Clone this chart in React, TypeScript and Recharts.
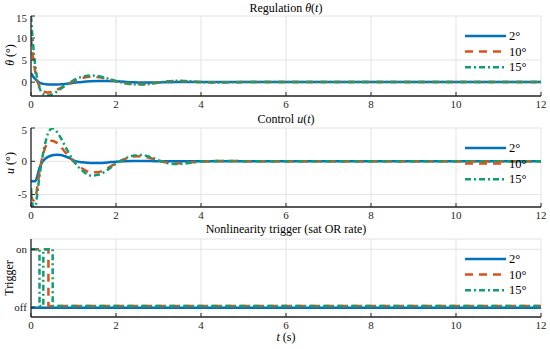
import { LineChart, Line, XAxis, YAxis, CartesianGrid, Legend } from "recharts";

// ---------------------------------------------------------------------------
// Data
// ---------------------------------------------------------------------------

const timeS = [
  0, 0.05, 0.1, 0.15, 0.2, 0.25, 0.3, 0.35, 0.4, 0.5, 0.6, 0.7, 0.8, 0.9, 1.0,
  1.1, 1.2, 1.4, 1.6, 1.8, 2.0, 2.2, 2.4, 2.6, 2.8, 3.0, 3.2, 3.4, 3.6, 3.8,
  4.0, 4.5, 5, 6, 8, 10, 12,
];

const theta2 = [
  2.0, 1.3, 0.7, 0.2, -0.1, -0.3, -0.4, -0.48, -0.52, -0.55, -0.55, -0.5,
  -0.42, -0.3, -0.17, -0.05, 0.05, 0.2, 0.27, 0.25, 0.17, 0.07, -0.02, -0.07,
  -0.08, -0.06, -0.03, 0, 0.02, 0.02, 0.01, 0, 0, 0, 0, 0, 0,
];
const theta10 = [
  10, 5.5, 2.4, 0.3, -1.0, -1.7, -2.1, -2.3, -2.35, -2.2, -1.8, -1.3, -0.75,
  -0.25, 0.2, 0.6, 0.9, 1.2, 1.1, 0.7, 0.2, -0.2, -0.42, -0.45, -0.33, -0.08,
  0.15, 0.25, 0.22, 0.1, 0.0, -0.05, 0, 0, 0, 0, 0,
];
const theta15 = [
  15, 8.5, 3.8, 0.6, -1.3, -2.3, -2.8, -3.05, -3.05, -2.8, -2.2, -1.5, -0.8,
  -0.2, 0.4, 0.9, 1.2, 1.5, 1.35, 0.85, 0.25, -0.25, -0.5, -0.55, -0.4, -0.1,
  0.15, 0.3, 0.27, 0.12, 0.0, -0.07, 0, 0, 0, 0, 0,
];

const u2 = [
  -3.0, -3.0, -3.0, -2.2, -1.0, -0.3, 0.15, 0.45, 0.65, 0.9, 0.98, 0.95, 0.75,
  0.5, 0.15, -0.05, -0.15, -0.27, -0.27, -0.18, -0.06, 0.0, 0.03, 0.04, 0.03,
  0.01, 0, 0, 0, 0, 0, 0, 0, 0, 0, 0, 0,
];
const u10 = [
  -5.0, -5.9, -5.6, -3.8, -1.6, 0.1, 1.4, 2.3, 2.8, 3.1, 2.8, 2.2, 1.4, 0.7,
  0.0, -0.6, -1.05, -1.65, -1.6, -1.05, -0.3, 0.3, 0.7, 0.75, 0.5, 0.1, -0.2,
  -0.32, -0.28, -0.15, -0.03, 0.04, 0.02, 0, 0, 0, 0,
];
const u15 = [
  -4.0, -6.8, -6.8, -4.8, -2.2, -0.1, 1.7, 3.1, 4.2, 4.95, 4.5, 3.5, 2.3, 1.1,
  0.1, -0.75, -1.35, -2.15, -2.0, -1.3, -0.35, 0.35, 0.85, 0.95, 0.65, 0.15,
  -0.25, -0.4, -0.35, -0.18, -0.04, 0.05, 0.02, 0, 0, 0, 0,
];

// trigger: 1 = on, 0 = off (step signal)
const trigTimes = [0, 0.2, 0.29, 0.41, 0.51, 12];
const trig2 = [-0.01, -0.01, -0.01, -0.01, -0.01, -0.01];
const trig10 = [1, 1, 1, 0.02, 0.02, 0.02];
const trig15 = [1, 0.02, 1, 1, 0.02, 0.02];

const seriesNames = ["2°", "10°", "15°"];
const seriesColors = ["#0072BD", "#D95319", "#0f9e74"];
const seriesDash = ["", "8 6", "6 3 2 3"];

const xTicks = [0, 2, 4, 6, 8, 10, 12];

const thetaData = timeS.map((t, i) => ({ t, a: theta2[i], b: theta10[i], c: theta15[i] }));
const uData = timeS.map((t, i) => ({ t, a: u2[i], b: u10[i], c: u15[i] }));
const trigData = trigTimes.map((t, i) => ({ t, a: trig2[i], b: trig10[i], c: trig15[i] }));

// ---------------------------------------------------------------------------
// Styling
// ---------------------------------------------------------------------------

const FONT = '"Liberation Serif", "Times New Roman", serif';
const AXIS = "#262626";
const tickStyle = { fontSize: 11, fill: AXIS, fontFamily: FONT };
const axisLine = { stroke: AXIS, strokeWidth: 1.3 };

const LegendContent = ({ payload }: any) => (
  <svg width={85} height={50} style={{ display: "block" }}>
    {(payload || []).map((e: any, i: number) => {
      const y = 8 + i * 15.6;
      return (
        <g key={i}>
          <line
            x1={3}
            x2={44}
            y1={y}
            y2={y}
            stroke={seriesColors[i]}
            strokeWidth={2.5}
            strokeDasharray={seriesDash[i] || undefined}
          />
          <text x={47} y={y + 4} fontSize={12.5} fontFamily={FONT} fill="#000">
            {seriesNames[i]}
          </text>
        </g>
      );
    })}
  </svg>
);

interface PanelProps {
  data: { t: number; a: number; b: number; c: number }[];
  top: number;
  plotH: number;
  domain: [number, number];
  yTicks: number[];
  yFmt?: (v: number) => string;
  curve: "monotone" | "stepAfter";
}

const Panel = ({ data, top, plotH, domain, yTicks, yFmt, curve }: PanelProps) => (
  <div style={{ position: "absolute", left: 0, top: top - 4 }}>
    <LineChart
      width={550}
      height={plotH + 24}
      data={data}
      margin={{ top: 4, right: 9, bottom: 0, left: 0 }}
    >
      <CartesianGrid stroke="#e3e3e3" strokeWidth={1} />
      <XAxis
        dataKey="t"
        type="number"
        domain={[0, 12]}
        ticks={xTicks}
        allowDataOverflow
        height={20}
        stroke={AXIS}
        axisLine={axisLine}
        tick={tickStyle}
        tickSize={-4}
        tickMargin={8}
      />
      <XAxis
        xAxisId="top"
        dataKey="t"
        type="number"
        orientation="top"
        domain={[0, 12]}
        ticks={xTicks}
        height={0}
        stroke={AXIS}
        axisLine={axisLine}
        tickSize={-4}
        tickFormatter={() => ""}
      />
      <YAxis
        type="number"
        domain={domain}
        ticks={yTicks}
        allowDataOverflow
        width={31}
        stroke={AXIS}
        axisLine={axisLine}
        tick={tickStyle}
        tickSize={-4}
        tickMargin={8}
        tickFormatter={yFmt}
      />
      <YAxis
        yAxisId="right"
        orientation="right"
        type="number"
        domain={domain}
        ticks={yTicks}
        allowDataOverflow
        width={0}
        stroke={AXIS}
        axisLine={axisLine}
        tickSize={-4}
        tickFormatter={() => ""}
      />
      {["a", "b", "c"].map((k, i) => (
        <Line
          key={k}
          dataKey={k}
          name={seriesNames[i]}
          type={curve}
          stroke={seriesColors[i]}
          strokeWidth={2.5}
          strokeDasharray={seriesDash[i] || undefined}
          dot={false}
          isAnimationActive={false}
          legendType="plainline"
        />
      ))}
      <Legend
        layout="vertical"
        align="center"
        verticalAlign="middle"
        content={<LegendContent />}
        wrapperStyle={{ left: 462, top: 16, width: 85, height: 50 }}
      />
    </LineChart>
  </div>
);

export default function App() {
  return (
    <div
      style={{
        position: "absolute",
        left: 0,
        top: 0,
        width: 550,
        height: 349,
        background: "#fff",
        fontFamily: FONT,
      }}
    >
      <style>{`.recharts-text, .recharts-cartesian-axis-tick-value { font-family: ${FONT}; }`}</style>
      <Panel
        data={thetaData}
        top={16}
        plotH={80}
        domain={[-3.15, 15]}
        yTicks={[0, 5, 10, 15]}
        curve="monotone"
      />
      <Panel
        data={uData}
        top={128}
        plotH={79}
        domain={[-6.87, 5]}
        yTicks={[-5, 0, 5]}
        curve="monotone"
      />
      <Panel
        data={trigData}
        top={239}
        plotH={78}
        domain={[-0.172, 1.178]}
        yTicks={[0, 1]}
        yFmt={(v) => (v === 1 ? "on" : "off")}
        curve="stepAfter"
      />

      {/* titles and axis labels */}
      <svg
        width={550}
        height={349}
        style={{ position: "absolute", left: 0, top: 0, pointerEvents: "none" }}
        fontFamily={FONT}
        fill="#000"
      >
        <text x={286} y={12} fontSize={12} textAnchor="middle">
          Regulation <tspan fontStyle="italic">θ</tspan>(<tspan fontStyle="italic">t</tspan>)
        </text>
        <text x={286} y={123} fontSize={12} textAnchor="middle">
          Control <tspan fontStyle="italic">u</tspan>(<tspan fontStyle="italic">t</tspan>)
        </text>
        <text x={286} y={233} fontSize={12} textAnchor="middle">
          Nonlinearity trigger (sat OR rate)
        </text>
        <text x={286} y={341} fontSize={12} textAnchor="middle">
          <tspan fontStyle="italic">t</tspan> (s)
        </text>
        <text
          x={0}
          y={0}
          fontSize={12}
          textAnchor="middle"
          transform="translate(14 55) rotate(-90)"
        >
          <tspan fontStyle="italic">θ</tspan> (°)
        </text>
        <text
          x={0}
          y={0}
          fontSize={12}
          textAnchor="middle"
          transform="translate(14 163) rotate(-90)"
        >
          <tspan fontStyle="italic">u</tspan> (°)
        </text>
        <text
          x={0}
          y={0}
          fontSize={12}
          textAnchor="middle"
          transform="translate(13 278) rotate(-90)"
        >
          Trigger
        </text>
      </svg>
    </div>
  );
}
